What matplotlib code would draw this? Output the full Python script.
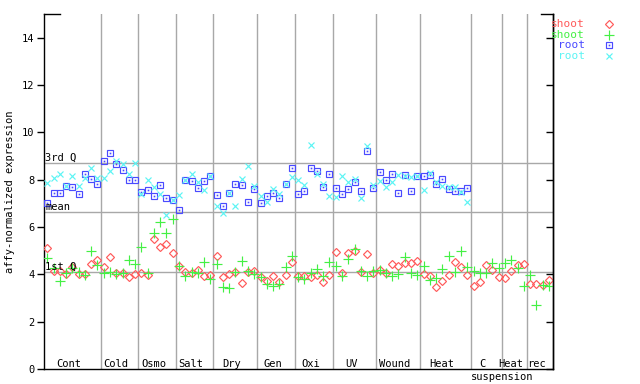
import matplotlib
matplotlib.use("Agg")
import matplotlib.pyplot as plt
import numpy as np

# ---- data ----
groups = ['Cont', 'Cold', 'Osmo', 'Salt', 'Dry', 'Gen', 'Oxi', 'UV', 'Wound', 'Heat', 'C', 'Heat', 'rec']
group_sizes = [9, 6, 6, 6, 7, 6, 6, 7, 7, 8, 5, 4, 4]
sub_label = 'suspension'

shoot_rep1 = [5.10, 4.16, 4.16, 4.00, 4.33, 4.00, 4.00, 4.43, 4.60, 4.30, 4.72, 4.04, 4.04, 3.88, 4.00,
              4.04, 3.96, 5.48, 5.15, 5.27, 4.89, 4.37, 4.09, 4.04, 4.17, 3.92, 3.96, 4.79, 3.88, 4.00,
              4.09, 3.62, 4.09, 4.13, 3.88, 3.71, 3.92, 3.67, 3.96, 4.51, 3.92, 3.92, 3.88, 3.96, 3.67,
              3.96, 4.93, 4.04, 4.89, 4.98, 4.09, 4.85, 4.04, 4.17, 4.04, 4.43, 4.34, 4.47, 4.47, 4.55,
              4.00, 3.92, 3.45, 3.71, 3.96, 4.51, 4.30, 3.96, 3.50, 3.67, 4.38, 4.17, 3.88, 3.83, 4.13,
              4.38, 4.43, 3.58, 3.58, 3.54, 3.75]
shoot_rep2 = [4.68, 4.26, 3.71, 4.04, 4.26, 4.09, 3.96, 4.98, 4.38, 4.04, 4.09, 4.00, 4.04, 4.60, 4.43,
              5.15, 4.04, 5.74, 6.20, 5.74, 6.35, 4.37, 3.92, 4.09, 4.04, 4.51, 3.79, 4.43, 3.45, 3.41,
              4.09, 4.55, 4.13, 4.00, 3.88, 3.58, 3.50, 3.58, 4.30, 4.76, 3.88, 3.79, 4.04, 4.21, 3.92,
              4.51, 4.34, 3.92, 4.64, 5.06, 4.13, 3.92, 4.13, 4.17, 4.04, 3.92, 4.00, 4.72, 4.04, 3.96,
              4.34, 3.75, 3.83, 4.21, 4.76, 4.09, 4.98, 4.30, 4.13, 4.04, 4.04, 4.47, 4.26, 4.47, 4.60,
              4.26, 3.50, 3.96, 2.69, 3.54, 3.50]
root_rep1 = [7.01, 7.43, 7.43, 7.75, 7.68, 7.39, 8.25, 8.02, 7.81, 8.78, 9.12, 8.66, 8.40, 7.98, 7.98,
             7.47, 7.56, 7.30, 7.77, 7.22, 7.13, 6.71, 7.98, 7.94, 7.64, 7.94, 8.15, 7.34, 6.88, 7.43,
             7.81, 7.77, 7.05, 7.60, 7.01, 7.30, 7.43, 7.22, 7.81, 8.49, 7.39, 7.51, 8.49, 8.36, 7.68,
             8.23, 7.64, 7.39, 7.60, 7.89, 7.51, 9.20, 7.64, 8.32, 7.98, 8.23, 7.43, 8.19, 7.51, 8.15,
             8.15, 8.19, 7.81, 8.02, 7.61, 7.51, 7.51, 7.64]
root_rep2 = [7.85, 8.06, 8.23, 7.75, 8.15, 7.72, 8.06, 8.49, 8.06, 8.06, 8.36, 8.78, 8.66, 8.23, 8.70,
             7.39, 7.98, 7.68, 7.39, 6.50, 7.13, 7.34, 7.98, 8.23, 7.89, 7.56, 8.15, 6.88, 6.58, 7.43,
             6.88, 8.02, 8.57, 7.72, 7.30, 7.05, 7.60, 7.39, 7.81, 8.11, 7.98, 7.77, 9.46, 8.23, 7.81,
             7.30, 7.26, 8.15, 7.89, 8.02, 7.22, 9.42, 7.77, 7.94, 7.68, 7.89, 8.19, 8.15, 8.11, 8.15,
             7.56, 8.27, 7.90, 7.72, 7.70, 7.68, 7.50, 7.05]
ref_lines = {'3rd Q': 8.71, 'mean': 6.64, '1st Q': 4.10}
y_ticks = [0, 2, 4, 6, 8, 10, 12, 14]

# ---- style ----
FONT = 'DejaVu Sans Mono'
FS = 7.5
plt.rcParams['font.family'] = [FONT]
plt.rcParams['font.size'] = FS
RED, GREEN, BLUE, CYAN = '#ff5a5a', '#44f044', '#4a4aff', '#5cf4f4'
GRID = '#a8a8a8'
MEW = 0.85

fig = plt.figure(figsize=(6.4, 3.84), dpi=100)
ax = fig.add_axes([44 / 640, 1 - 369 / 384, 509 / 640, 355 / 384])

n_total = sum(group_sizes)
ax.set_xlim(-0.53, n_total - 0.35)
ax.set_ylim(0, 15)

# group separators
bounds = np.cumsum(group_sizes)
for b in bounds[:-1]:
    ax.axvline(b - 0.5, color=GRID, lw=1, zorder=1)

# reference lines
for name, val in ref_lines.items():
    ax.axhline(val, color=GRID, lw=1, zorder=1)
    ax.text(-0.35, val, name, ha='left', va='bottom', fontsize=FS, zorder=5,
            color='black')

xs_shoot = np.arange(len(shoot_rep1))
xs_root = np.arange(len(root_rep1))

ax.plot(xs_shoot, shoot_rep1, ls='none', marker='D', ms=4, mfc='none', mec=RED, mew=MEW, zorder=3)
ax.plot(xs_shoot, shoot_rep2, ls='none', marker='+', ms=7, mec=GREEN, mew=MEW, zorder=3)
ax.plot(xs_root, root_rep1, ls='none', marker='s', ms=5, mfc='none', mec=BLUE, mew=MEW, zorder=3)
ax.plot(xs_root, root_rep1, ls='none', marker='s', ms=1.2, mfc=BLUE, mec=BLUE, mew=0, zorder=3)
ax.plot(xs_root, root_rep2, ls='none', marker='x', ms=5, mec=CYAN, mew=MEW, zorder=4)

# group labels
starts = bounds - np.array(group_sizes)
for g, s, e in zip(groups, starts, bounds):
    cx = (s + e - 1) / 2 - 0.55
    ax.text(cx, 0, g, ha='center', va='bottom', fontsize=FS, zorder=5)
c_idx = groups.index('C')
ax.text((starts[c_idx] + bounds[c_idx] - 1) / 2 + 2.5, -0.34, sub_label, ha='center', va='center',
        fontsize=FS, clip_on=False)

# axes styling
ax.spines['top'].set_visible(False)
for side in ['left', 'bottom', 'right']:
    ax.spines[side].set_color('black')
    ax.spines[side].set_linewidth(1)
ax.set_xticks([])
ax.set_yticks(y_ticks)
ax.tick_params(axis='y', direction='out', length=5, width=1, pad=2, labelsize=FS)
ax2 = ax.twinx()
ax2.set_ylim(ax.get_ylim())
ax2.set_yticks(y_ticks)
ax2.set_yticklabels([])
ax2.tick_params(axis='y', direction='in', length=5, width=1)
for side in ['top', 'left', 'bottom']:
    ax2.spines[side].set_visible(False)
ax2.spines['right'].set_linewidth(1)
# short top stubs
ax.plot([0, 16 / 509], [1, 1], transform=ax.transAxes, color='black', lw=1, clip_on=False)
ax.plot([1 - 12 / 509, 1], [1, 1], transform=ax.transAxes, color='black', lw=1, clip_on=False)

ax.set_ylabel('affy-normalized expression', fontsize=FS, labelpad=5)

# legend (outside, right)
leg = [('shoot', RED, dict(marker='D', ms=4, mfc='none', mec=RED, mew=MEW)),
       ('shoot', GREEN, dict(marker='+', ms=7, mec=GREEN, mew=MEW)),
       ('root', BLUE, dict(marker='s', ms=5, mfc='none', mec=BLUE, mew=MEW)),
       ('root', CYAN, dict(marker='x', ms=5, mec=CYAN, mew=MEW))]
ly = [23.7, 34.7, 45.0, 56.0]
for (lab, col, mk), yy in zip(leg, ly):
    fy = 1 - yy / 384
    fig.text(585 / 640, fy, lab, color=col, ha='right', va='center', fontsize=FS + 0.5)
    fig.lines.append(plt.Line2D([609 / 640], [fy], transform=fig.transFigure, ls='none', **mk))
    if lab == 'root' and col == BLUE:
        fig.lines.append(plt.Line2D([609 / 640], [fy], transform=fig.transFigure, ls='none',
                                    marker='s', ms=1.2, mfc=BLUE, mec=BLUE, mew=0))

fig.savefig('out.png', dpi=100)
